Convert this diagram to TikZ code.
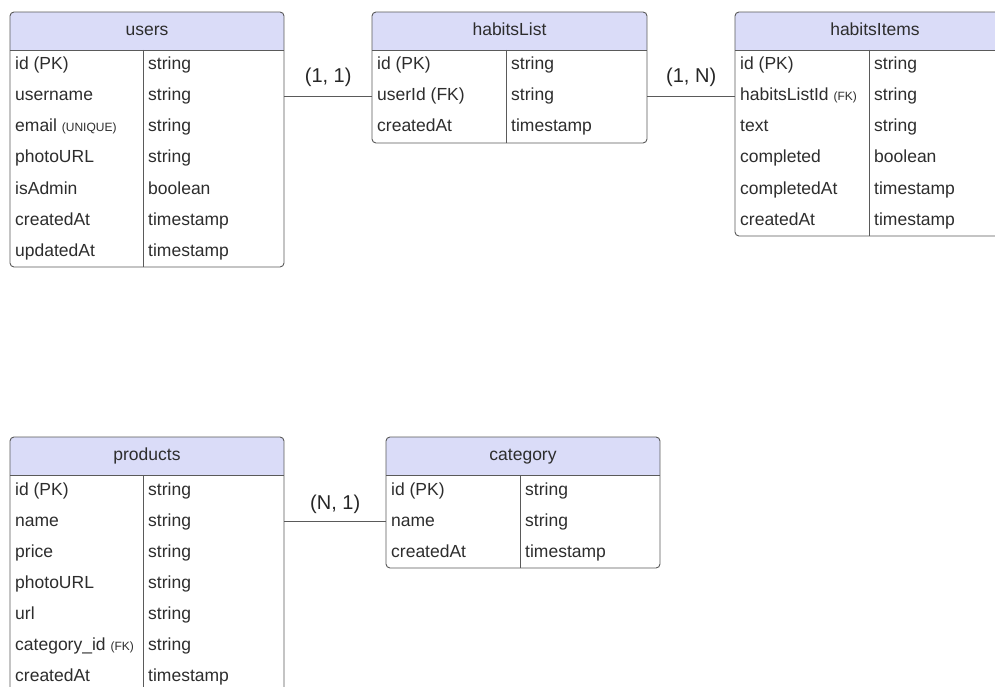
\documentclass[tikz,border=0pt]{standalone}
\usepackage{fontspec}
\setmainfont{Liberation Sans}
\definecolor{hfill}{RGB}{218,220,248}
\definecolor{lcol}{RGB}{90,90,90}
\definecolor{tcol}{RGB}{45,45,45}
\tikzset{
  cell/.style={anchor=west, inner sep=0pt, text height=12.5pt, text depth=3.5pt, text=tcol, font=\fontsize{17.5}{20}\selectfont},
  title/.style={inner sep=0pt, text height=12.5pt, text depth=3.5pt, text=tcol, font=\fontsize{17.5}{20}\selectfont},
  tline/.style={draw=lcol, line width=0.9pt},
  conn/.style={draw=lcol, line width=0.9pt},
  card/.style={inner sep=0pt, text height=14pt, text depth=4pt, text=black!85, font=\fontsize{20}{24}\selectfont},
}
\newcommand{\sm}[1]{{\fontsize{12}{14}\selectfont #1}}
% #1 name, #2 left, #3 top, #4 width, #5 divider offset, #6 nrows, #7 title, #8 rows list
\newcommand{\ertable}[8]{%
  \pgfmathsetmacro{\tR}{#2+#4}%
  \pgfmathsetmacro{\tH}{#3+38}%
  \pgfmathsetmacro{\tB}{#3+38+#6*31}%
  \pgfmathsetmacro{\tD}{#2+#5}%
  \begin{scope}
    \clip[rounded corners=4] (#2,#3) rectangle (\tR,\tB);
    \fill[white] (#2,#3) rectangle (\tR,\tB);
    \fill[hfill] (#2,#3) rectangle (\tR,\tH);
  \end{scope}
  \node[name=#1, inner sep=0pt, minimum width=#4pt, minimum height=\tB pt-#3pt, anchor=north west] at (#2,#3) {};
  \draw[tline, rounded corners=4] (#2,#3) rectangle (\tR,\tB);
  \draw[tline] (#2,\tH) -- (\tR,\tH);
  \draw[tline] (\tD,\tH) -- (\tD,\tB);
  \node[title] (#1-title) at ({(#2+\tR)/2},{#3+19}) {#7};
  \foreach \ca/\cb [count=\i] in {#8} {
    \node[cell] (#1-a\i) at (#2+5,{#3+38+(\i-0.5)*31}) {\ca};
    \node[cell] (#1-b\i) at (\tD+5,{#3+38+(\i-0.5)*31}) {\cb};
  }
}
\begin{document}
\begin{tikzpicture}[x=1pt,y=-1pt]
\useasboundingbox (0,0) rectangle (995,687);
\clip (0,0) rectangle (995,687);
\fill[white] (0,0) rectangle (995,687);

\ertable{users}{10}{12}{274}{133}{7}{users}{id (PK)/string, username/string, email \sm{(UNIQUE)}/string, photoURL/string, isAdmin/boolean, createdAt/timestamp, updatedAt/timestamp}
\ertable{habitsList}{372}{12}{275}{134}{3}{habitsList}{id (PK)/string, userId (FK)/string, createdAt/timestamp}
\ertable{habitsItems}{735}{12}{280}{134}{6}{habitsItems}{id (PK)/string, habitsListId \sm{(FK)}/string, text/string, completed/boolean, completedAt/timestamp, createdAt/timestamp}
\ertable{products}{10}{437}{274}{133}{7}{products}{id (PK)/string, name/string, price/string, photoURL/string, url/string, category\_id \sm{(FK)}/string, createdAt/timestamp}
\ertable{category}{386}{437}{274}{134}{3}{category}{id (PK)/string, name/string, createdAt/timestamp}

\draw[conn] (users.east |- users-a2) -- node[card, midway, yshift=19pt] (lab1) {(1, 1)} (habitsList.west |- users-a2);
\draw[conn] (habitsList.east |- habitsList-a2) -- node[card, midway, yshift=19pt] (lab2) {(1, N)} (habitsItems.west |- habitsList-a2);
\draw[conn] (products.east |- products-a2) -- node[card, midway, yshift=17pt] (lab3) {(N, 1)} (category.west |- products-a2);
\end{tikzpicture}
\end{document}
